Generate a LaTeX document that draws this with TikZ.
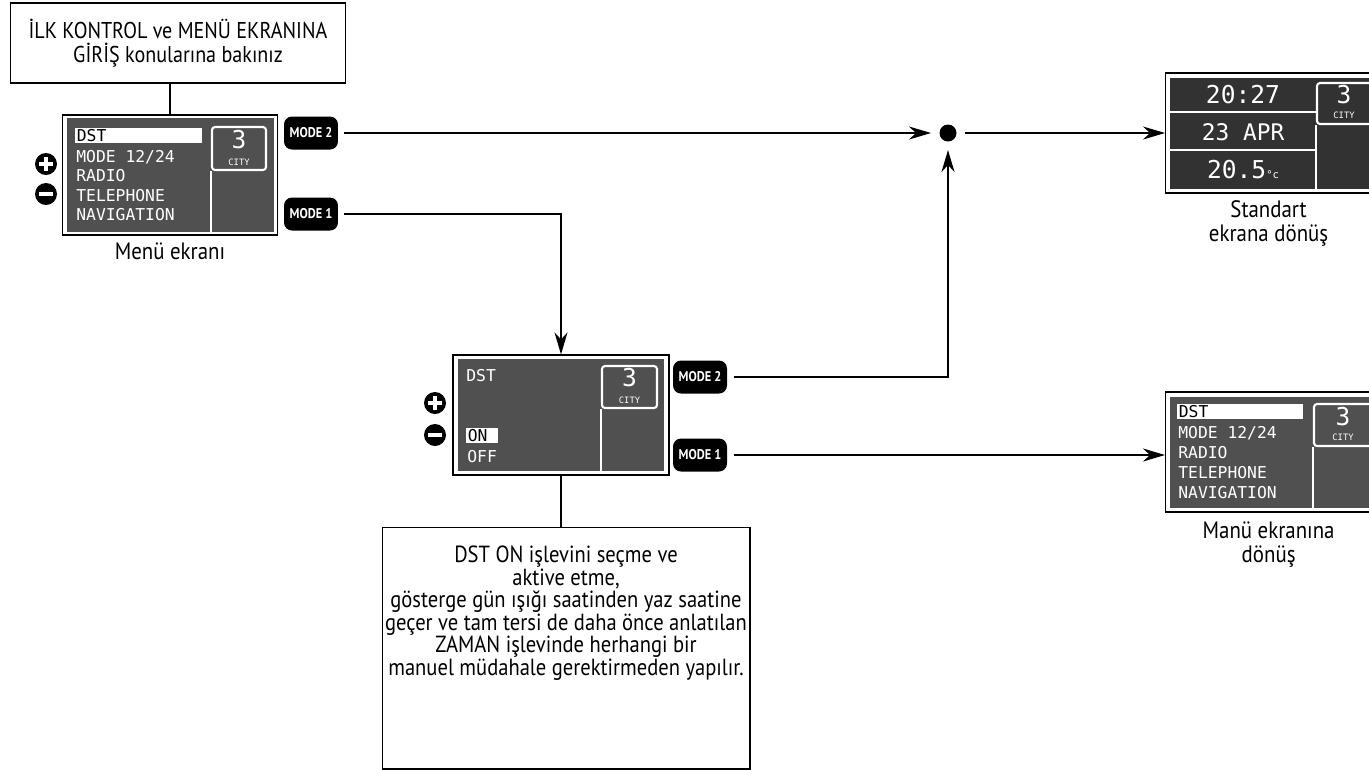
\documentclass[tikz,border=0pt]{standalone}
\usepackage{fontspec}
\setmainfont{PT Sans}[FakeStretch=0.88]
\newfontfamily\lcdfont{DejaVu Sans Mono}
\usetikzlibrary{positioning,arrows.meta,calc}
\definecolor{lcdgray}{RGB}{80,80,80}
\definecolor{lcddark}{RGB}{50,50,50}
\tikzset{
  notebox/.style={draw, line width=0.6pt, fill=white, inner sep=0pt, align=center,
                  font=\fontsize{13}{13.6}\selectfont},
  notetext/.style={inner sep=0pt, align=center, font=\fontsize{13.3}{12.8}\selectfont},
  caption/.style={inner sep=0pt, align=center, font=\fontsize{13.5}{13.6}\selectfont},
  screen/.style={draw, line width=0.7pt, fill=white, inner sep=0pt},
  lcd/.style={anchor=west, text=white, inner sep=0pt, text height=6.8pt, text depth=0pt,
              font=\lcdfont\fontsize{9.3}{10}\selectfont},
  lcdsel/.style={lcd, fill=white, text=black, inner xsep=0.03cm, inner ysep=0.03cm},
  lcdbig/.style={text=white, inner sep=0pt, font=\lcdfont\fontsize{14}{14}\selectfont},
  lcdmid/.style={text=white, inner sep=0pt, font=\lcdfont\fontsize{13}{13}\selectfont},
  lcdtiny/.style={text=white, inner sep=0pt, font=\lcdfont\fontsize{5}{5}\selectfont},
  citybox/.style={draw=white, line width=1.2pt, rounded corners=0.06cm, inner sep=0pt},
  divider/.style={white, line width=1.2pt},
  modebtn/.style={fill=black, rounded corners=0.16cm, text=white, inner sep=0pt,
                  minimum width=1.08cm, minimum height=0.66cm, outer sep=0.13cm,
                  font=\bfseries\fontsize{8}{9}\selectfont},
  pm/.style={circle, fill=black, minimum size=0.44cm, inner sep=0pt},
  plusbtn/.style={pm, path picture={\draw[white, line width=2.6pt]
      (path picture bounding box.center) +(-1.4mm,0) -- +(1.4mm,0)
      (path picture bounding box.center) +(0,-1.4mm) -- +(0,1.4mm);}},
  minusbtn/.style={pm, path picture={\draw[white, line width=2.6pt]
      (path picture bounding box.center) +(-1.4mm,0) -- +(1.4mm,0);}},
  junction/.style={circle, fill=black, minimum size=0.34cm, inner sep=0pt, outer sep=0.17cm},
  link/.style={line width=1pt},
  arr/.style={-{Stealth[length=4.4mm, width=2.6mm, inset=1.4mm]}, line width=1pt}
}
\begin{document}
\begin{tikzpicture}[x=0.02cm, y=-0.02cm]
\useasboundingbox (0,0) rectangle (1369,769);

% reference note
\node[notebox, minimum width=6.72cm, minimum height=1.6cm] (note1) at (178,43)
  {İLK KONTROL ve MENÜ EKRANINA\\GİRİŞ konularına bakınız};

% menu screen
\node[screen, minimum width=4.3cm, minimum height=2.4cm] (menu) at (170,175) {};
\fill[lcdgray] (67,118) rectangle (274,232);
\node[lcdsel, text width=2.48cm] (menusel) at (75,135.5) {DST};
\foreach \txt [count=\i] in {MODE 12/24, RADIO, TELEPHONE, NAVIGATION}
  \node[lcd] (menuitem\i) at (76,137+19.5*\i) {\txt};
\node[citybox, minimum width=1.08cm, minimum height=0.86cm] (menucity) at (239,148.5) {};
\node[lcdbig] (menunum) at (239,140) {3};
\node[lcdtiny] (menucitytxt) at (239,162) {CITY};
\draw[divider] (menucity.south west) -- (menucity.south west |- 0,232);
\node[plusbtn] (plus1) at (46,164) {};
\node[minusbtn] (minus1) at (46,194) {};
\node[modebtn] (m2a) at (311,133) {MODE 2};
\node[modebtn] (m1a) at (311,214) {MODE 1};
\node[caption, below=0.14cm of menu] (menucap) {Menü ekranı};

% junction
\node[junction] (jn) at (948,133) {};

% standard screen
\node[screen, minimum width=4.12cm, minimum height=2.4cm, anchor=west] (std) at (1165,133) {};
\fill[lcddark] (1170,78) rectangle (1370,189);
\draw[divider] (1170,112) -- (1316,112) (1170,150) -- (1316,150);
\node[citybox, minimum width=1.1cm, minimum height=0.82cm] (stdcity) at (1344.5,103.5) {};
\node[lcdbig] (stdnum) at (1344,95) {3};
\node[lcdtiny] (stdcitytxt) at (1344,115) {CITY};
\draw[divider] (stdcity.south west) -- (stdcity.south west |- 0,189);
\node[lcdbig] (stdtime) at (1243,95) {20:27};
\node[lcdmid] (stddate) at (1243,132) {23 APR};
\node[lcdbig] (stdtemp) at (1243,170) {20.5{\fontsize{6}{6}\selectfont °c}};
\node[caption, below=0.14cm of std] (stdcap) {Standart\\ekrana dönüş};

% DST screen
\node[screen, minimum width=4.32cm, minimum height=2.4cm] (dst) at (561,415) {};
\fill[lcdgray] (458,359) rectangle (664,471);
\node[lcd] (dsttitle) at (466,376) {DST};
\node[lcdsel, text width=0.58cm] (dston) at (466,435.5) {ON};
\node[lcd] (dstoff) at (467,457) {OFF};
\node[citybox, minimum width=1.1cm, minimum height=0.84cm] (dstcity) at (629.5,387) {};
\node[lcdbig] (dstnum) at (629.5,378) {3};
\node[lcdtiny] (dstcitytxt) at (629.5,400) {CITY};
\draw[divider] (dstcity.south west) -- (dstcity.south west |- 0,471);
\node[plusbtn] (plus2) at (435,403) {};
\node[minusbtn] (minus2) at (435,435) {};
\node[modebtn] (m2b) at (700,377) {MODE 2};
\node[modebtn] (m1b) at (700,455) {MODE 1};

% back to menu screen
\node[screen, minimum width=4.12cm, minimum height=2.4cm, anchor=west] (menuback) at (1165,452) {};
\fill[lcdgray] (1170,397) rectangle (1370,508);
\node[lcdsel, text width=2.46cm] (backsel) at (1177,411.5) {DST};
\foreach \txt [count=\i] in {MODE 12/24, RADIO, TELEPHONE, NAVIGATION}
  \node[lcd] (backitem\i) at (1178,413+20*\i) {\txt};
\node[citybox, minimum width=1.16cm, minimum height=0.84cm] (backcity) at (1343,425) {};
\node[lcdbig] (backnum) at (1343,417) {3};
\node[lcdtiny] (backcitytxt) at (1343,437) {CITY};
\draw[divider] (backcity.south west) -- (backcity.south west |- 0,508);
\node[caption, below=0.18cm of menuback] (backcap) {Manü ekranına\\dönüş};

% explanation
\node[notebox, minimum width=7.36cm, minimum height=4.84cm] (note2) at (566,648) {};
\node[notetext] (note2txt) at (566,613) {DST ON işlevini seçme ve\\aktive etme,\\gösterge gün ışığı saatinden yaz saatine\\geçer ve tam tersi de daha önce anlatılan\\ZAMAN işlevinde herhangi bir\\manuel müdahale gerektirmeden yapılır.};

% connectors
\draw[link] (menu.north |- note1.south) -- (menu.north);
\draw[arr] (m2a.east) -- (jn.west);
\draw[arr] (jn.east) -- (std.west);
\draw[arr] (m1a.east) -| (dst.north);
\draw[arr] (m2b.east) -| (jn.south);
\draw[arr] (m1b.east) -- (m1b.east -| menuback.west);
\draw[link] (dst.south) -- (dst.south |- note2.north);
\end{tikzpicture}
\end{document}
